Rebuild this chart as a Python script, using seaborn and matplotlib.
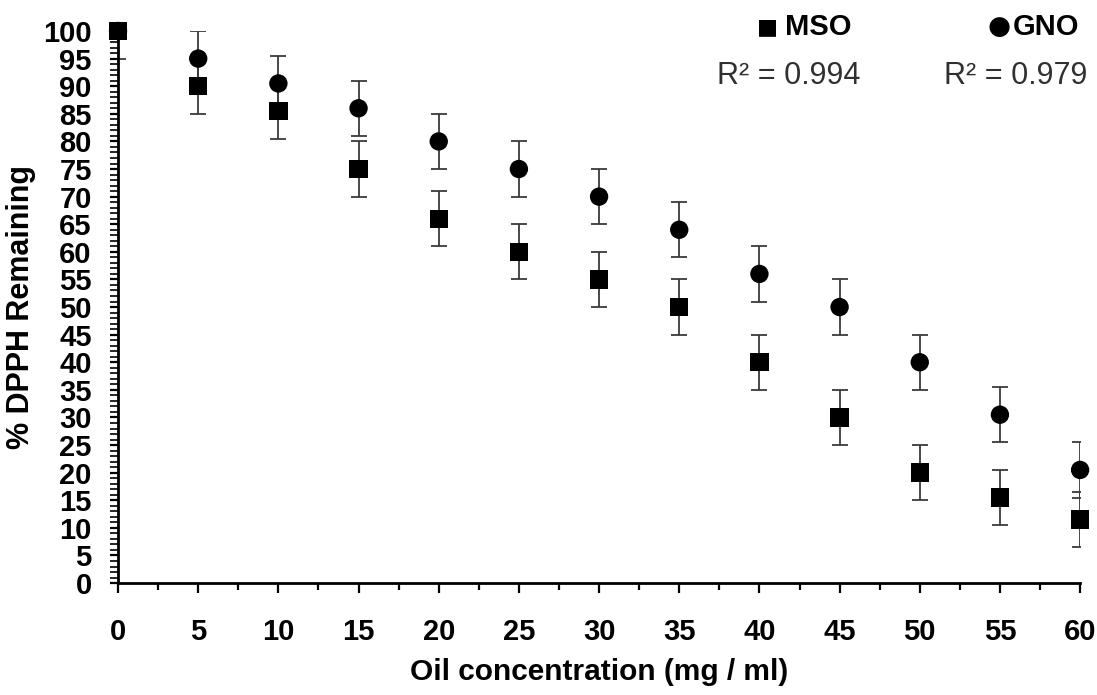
import matplotlib
matplotlib.use("Agg")
import matplotlib.pyplot as plt
from matplotlib.ticker import MultipleLocator
import seaborn as sns
import pandas as pd

conc = [0, 5, 10, 15, 20, 25, 30, 35, 40, 45, 50, 55, 60]
mso = [100, 90, 85.5, 75, 66, 60, 55, 50, 40, 30, 20, 15.5, 11.5]
gno = [100, 95, 90.5, 86, 80, 75, 70, 64, 56, 50, 40, 30.5, 20.5]
mso_err = [5, 5, 5, 5, 5, 5, 5, 5, 5, 5, 5, 5, 5]
gno_err = [0, 5, 5, 5, 5, 5, 5, 5, 5, 5, 5, 5, 5]
r2_mso = "R² = 0.994"
r2_gno = "R² = 0.979"

df = pd.DataFrame({
    "conc": conc * 2,
    "value": mso + gno,
    "err": mso_err + gno_err,
    "oil": ["MSO"] * len(conc) + ["GNO"] * len(conc),
})

sns.set_style("ticks")
plt.rcParams['font.family'] = ['Liberation Sans', 'DejaVu Sans']
plt.rcParams['text.color'] = 'black'
plt.rcParams['axes.labelcolor'] = 'black'
plt.rcParams['xtick.color'] = 'black'
plt.rcParams['ytick.color'] = 'black'
plt.rcParams['axes.edgecolor'] = 'black'

fig = plt.figure(figsize=(10.97, 6.95), dpi=100)
ax = fig.add_axes([0.1076, 0.161, 0.877, 0.7944])

for oil in ["MSO", "GNO"]:
    sub = df[df.oil == oil]
    ax.errorbar(sub.conc, sub.value, yerr=sub.err, fmt="none", ecolor="#3a3a3a",
                elinewidth=1.3, capsize=6, capthick=1.3, clip_on=True, zorder=2)

sns.scatterplot(data=df, x="conc", y="value", style="oil", markers={"MSO": "s", "GNO": "o"},
                color="black", s=175, edgecolor="black", linewidth=0, legend=False,
                ax=ax, clip_on=False, zorder=3)

ax.set_xlim(0, 60)
ax.set_ylim(0, 100)
sns.despine(ax=ax)
for s in ["left", "bottom"]:
    ax.spines[s].set_linewidth(2)

ax.xaxis.set_major_locator(MultipleLocator(5))
ax.xaxis.set_minor_locator(MultipleLocator(2.5))
ax.yaxis.set_major_locator(MultipleLocator(5))
ax.yaxis.set_minor_locator(MultipleLocator(1))
ax.tick_params(axis="x", which="major", length=7, width=1.6, direction="out", pad=18,
               labelsize=21)
ax.tick_params(axis="x", which="minor", length=5, width=1.6, direction="out")
ax.tick_params(axis="y", which="major", length=6, width=1.6, direction="out", pad=13,
               labelsize=21)
ax.tick_params(axis="y", which="minor", length=6, width=1.2, direction="out")
for lab in ax.get_xticklabels() + ax.get_yticklabels():
    lab.set_fontweight("bold")

ax.set_xlabel("Oil concentration (mg / ml)", fontsize=21.5, fontweight="bold", labelpad=9)
ax.set_ylabel("% DPPH Remaining", fontsize=22, fontweight="bold", labelpad=5)

fig.text(0.709, 0.961, "■", fontsize=16, ha="right", va="center", family=["DejaVu Sans"])
fig.text(0.7156, 0.961, "MSO", fontsize=21, fontweight="bold", ha="left", va="center")
fig.text(0.9207, 0.961, "●", fontsize=19, ha="right", va="center", family=["DejaVu Sans"])
fig.text(0.9234, 0.961, "GNO", fontsize=21, fontweight="bold", ha="left", va="center")
fig.text(0.784, 0.891, r2_mso, fontsize=22, color="#303030", ha="right", va="center")
fig.text(0.991, 0.891, r2_gno, fontsize=22, color="#303030", ha="right", va="center")

fig.savefig("out.png", dpi=100)
